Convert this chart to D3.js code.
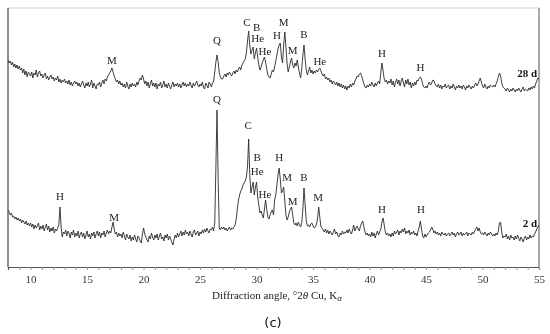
<!DOCTYPE html>
<html>
<head>
<meta charset="utf-8">
<script src="https://cdn.jsdelivr.net/npm/d3@7"></script>
<style>
  body { margin: 0; background: #fff; }
  svg { filter: grayscale(1); }
  .xrd-label { font-family: "Liberation Serif", "DejaVu Serif", serif; font-size: 11px; fill: #222; }
  .xrd-age { font-family: "Liberation Serif", serif; font-size: 11px; font-weight: bold; fill: #111; }
  .xrd-axis text { font-family: "Liberation Serif", serif; font-size: 11px; fill: #333; }
</style>
</head>
<body>
<div id="xrd-chart"></div>
<script>
// scan grid: 8.0 .. 55.0 degrees 2theta, 0.1 step
const angleStart = 8;
const angleStep = 0.1;

// 2 d sample, intensity (arb.)
const intensity2d = [
  57,55,52,54,50,51,48,50,47,49,
  46,48,44,47,45,43,46,42,44,41,
  44,40,43,38,42,39,41,44,37,41,
  38,42,36,40,43,37,41,35,39,36,
  40,34,38,36,39,42,60,40,30,35,
  33,37,31,36,34,29,35,32,37,30,
  34,31,36,29,33,35,30,34,28,32,
  36,30,33,28,34,31,35,29,33,36,
  31,35,29,34,32,36,30,34,37,33,
  36,34,40,45,38,33,35,30,34,31,
  33,29,35,31,27,33,30,28,32,26,
  30,27,32,28,25,31,29,26,24,33,
  39,33,30,27,25,31,28,34,30,27,
  32,29,33,27,31,34,28,30,26,32,
  29,33,27,31,28,25,22,28,32,29,
  34,30,33,36,31,35,32,37,33,35,
  31,36,33,30,35,37,32,34,36,31,
  35,33,37,34,38,35,39,36,34,38,
  37,40,36,44,100,157,88,39,37,40,
  38,40,37,39,36,38,40,37,39,38,
  40,42,48,58,67,72,76,78,82,84,
  86,90,100,128,92,74,80,85,72,80,
  85,70,62,54,56,52,49,58,67,58,
  50,48,52,55,57,52,67,72,82,92,
  99,88,74,76,80,66,52,47,50,55,
  58,60,52,44,42,44,41,45,42,40,
  44,58,79,62,46,41,42,40,43,44,
  41,39,40,43,48,60,50,40,39,37,
  35,38,34,37,33,36,34,32,35,38,
  33,35,31,30,34,32,36,33,35,34,
  37,34,38,35,33,37,42,36,39,41,
  38,36,41,44,46,40,35,32,34,31,
  33,30,35,31,34,29,33,36,32,35,
  38,45,49,42,35,32,34,31,33,30,
  34,31,36,33,35,37,32,36,34,38,
  35,39,33,36,34,37,32,35,33,36,
  32,34,31,36,40,46,38,31,29,33,
  30,32,34,35,37,40,38,34,36,33,
  35,32,34,31,35,33,32,34,31,33,
  34,31,33,35,32,34,30,33,35,32,
  33,35,31,34,32,33,35,31,34,33,
  32,35,33,36,38,40,36,39,35,33,
  34,32,35,33,31,34,32,35,33,31,
  33,31,34,32,36,44,45,35,29,31,
  30,33,28,31,27,32,29,30,27,31,
  28,32,29,26,30,28,25,29,31,27,
  30,28,32,29,31,30,33,35,38,40,
  42
];

// 28 d sample, intensity (arb.), drawn shifted up by offset28d
const intensity28d = [
  57,54,56,52,55,50,53,49,52,48,
  51,47,49,44,48,42,46,40,45,43,
  41,45,39,44,42,47,40,44,46,41,
  43,39,42,44,38,41,37,40,42,38,
  40,36,39,37,41,35,38,34,37,35,
  38,34,36,33,37,32,35,31,34,36,
  33,35,31,34,30,33,36,32,29,34,
  31,35,30,33,37,29,34,31,28,33,
  32,35,30,34,37,33,38,36,40,42,
  44,46,49,45,41,38,35,37,33,36,
  32,34,30,33,29,35,31,28,33,30,
  34,31,33,30,35,32,36,39,37,42,
  38,33,36,31,35,29,33,37,31,34,
  30,34,28,33,31,35,29,32,36,30,
  33,29,34,31,28,32,35,30,33,31,
  34,30,33,29,32,35,31,34,30,33,
  31,35,32,29,34,31,33,36,32,30,
  33,31,35,30,28,34,32,29,35,33,
  30,34,36,45,55,62,55,44,40,38,
  38,41,43,40,44,42,45,43,41,44,
  46,43,47,45,48,50,47,52,54,56,
  58,64,76,86,72,63,67,70,58,64,
  69,60,52,47,50,54,57,60,55,48,
  42,40,39,43,47,45,50,56,62,68,
  72,74,60,54,72,85,70,54,45,50,
  55,59,52,49,54,51,57,50,44,39,
  48,62,72,58,47,42,46,50,44,47,
  43,46,44,47,45,48,49,46,43,41,
  43,38,40,37,39,35,37,33,36,34,
  32,35,31,34,30,33,29,32,28,31,
  27,31,29,33,30,34,32,36,38,41,
  40,43,44,41,37,33,30,29,32,30,
  33,31,35,32,30,34,31,34,36,33,
  45,54,46,38,35,37,33,36,34,38,
  32,36,30,35,38,33,37,31,36,39,
  34,30,37,33,38,32,35,29,34,31,
  35,32,37,36,39,40,38,33,30,29,
  31,29,33,35,32,34,37,36,33,31,
  30,33,29,32,28,31,30,33,29,31,
  32,28,31,29,33,30,27,31,29,32,
  29,31,28,32,30,27,31,29,32,30,
  28,31,29,32,34,31,33,36,39,35,
  31,29,33,30,28,31,29,32,31,30,
  32,30,33,36,40,44,41,34,30,29,
  28,26,29,27,25,28,26,29,27,25,
  28,26,29,27,25,28,30,26,28,27,
  26,29,27,30,28,31,29,33,36,39,
  38
];
const offset28d = 150;

const tickLabels = [10, 15, 20, 25, 30, 35, 40, 45, 50, 55];

// phase labels: [text, angle, intensity of label baseline]
const peaks28d = [
  ["M", 17.2, 53], ["Q", 26.5, 73], ["C", 29.15, 91], ["B", 30.0, 86],
  ["He", 30.1, 75], ["He", 30.75, 62], ["H", 31.8, 78], ["M", 32.4, 91],
  ["M", 33.2, 63], ["B", 34.2, 79], ["He", 35.6, 52], ["H", 41.1, 60],
  ["H", 44.5, 46]
];
const peaks2d = [
  ["H", 12.6, 67], ["M", 17.4, 46], ["Q", 26.5, 164], ["C", 29.25, 138],
  ["B", 30.05, 106], ["He", 30.05, 92], ["He", 30.75, 69], ["H", 32.0, 106],
  ["M", 32.7, 86], ["M", 33.2, 62], ["B", 34.2, 86], ["M", 35.45, 66],
  ["H", 41.1, 54], ["H", 44.55, 54]
];

(function drawXrd() {
    const width = 550;
    const height = 334;
    const left = 8;
    const right = 539;
    const top = 8;
    const bottom = 267;

    const svg = d3.select("#xrd-chart").append("svg")
        .attr("width", width)
        .attr("height", height);

    const x = d3.scaleLinear().domain([8, 55]).range([left, right]);
    const y = d3.scaleLinear().domain([0, bottom - top]).range([bottom, top]);

    // frame
    svg.append("line").attr("x1", left).attr("x2", right + 1).attr("y1", top).attr("y2", top)
        .attr("stroke", "#d4d4d4").attr("stroke-width", 1.2);
    svg.append("line").attr("x1", right).attr("x2", right).attr("y1", top).attr("y2", bottom)
        .attr("stroke", "#a8a8a8").attr("stroke-width", 2);
    svg.append("line").attr("x1", left).attr("x2", left).attr("y1", top).attr("y2", bottom)
        .attr("stroke", "#444").attr("stroke-width", 1.2);

    const axis = svg.append("g")
        .attr("class", "xrd-axis")
        .attr("transform", `translate(0,${bottom})`)
        .call(d3.axisBottom(x)
            .tickValues(d3.range(9, 56))
            .tickSize(3)
            .tickPadding(5)
            .tickFormat(d => tickLabels.includes(d) ? d : ""));
    axis.select(".domain").attr("stroke", "#555").attr("stroke-width", 1.2);
    axis.selectAll(".tick line").attr("stroke", "#999");

    const line = d3.line()
        .x((d, i) => x(angleStart + i * angleStep))
        .y(d => y(d));

    svg.append("path")
        .attr("d", line(intensity28d.map(v => v + offset28d)))
        .attr("fill", "none")
        .attr("stroke", "#2b2b2b")
        .attr("stroke-width", 0.9)
        .attr("stroke-linejoin", "round");

    svg.append("path")
        .attr("d", line(intensity2d))
        .attr("fill", "none")
        .attr("stroke", "#2b2b2b")
        .attr("stroke-width", 0.9)
        .attr("stroke-linejoin", "round");

    function addLabels(peaks, shift) {
        svg.append("g").selectAll("text")
            .data(peaks)
            .join("text")
            .attr("class", "xrd-label")
            .attr("text-anchor", "middle")
            .attr("x", d => x(d[1]))
            .attr("y", d => y(d[2] + shift))
            .text(d => d[0]);
    }
    addLabels(peaks28d, offset28d);
    addLabels(peaks2d, 0);

    svg.append("text").attr("class", "xrd-age").attr("text-anchor", "end")
        .attr("x", right - 2).attr("y", y(offset28d + 40)).text("28 d");
    svg.append("text").attr("class", "xrd-age").attr("text-anchor", "end")
        .attr("x", right - 2).attr("y", y(40)).text("2 d");

    const title = svg.append("text")
        .attr("x", 277)
        .attr("y", 299)
        .attr("text-anchor", "middle")
        .attr("font-family", "Liberation Serif, serif")
        .attr("font-size", 11)
        .attr("fill", "#222");
    title.append("tspan").text("Diffraction angle, °2");
    title.append("tspan").attr("font-style", "italic").text("θ");
    title.append("tspan").text(" Cu, K");
    title.append("tspan").attr("font-style", "italic").attr("font-size", 9).attr("dy", 2).text("α");

    svg.append("text")
        .attr("x", 273)
        .attr("y", 327)
        .attr("text-anchor", "middle")
        .attr("font-family", "DejaVu Sans, sans-serif")
        .attr("font-size", 13)
        .attr("fill", "#111")
        .text("(c)");
}());
</script>
</body>
</html>
